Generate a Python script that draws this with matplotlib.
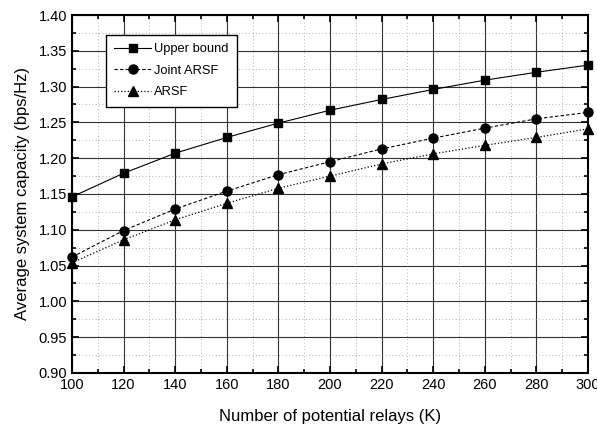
import matplotlib
matplotlib.use("Agg")
import matplotlib.pyplot as plt
from matplotlib.ticker import MultipleLocator

plt.rcParams['font.family'] = ['Liberation Sans', 'DejaVu Sans']

relays = [100, 120, 140, 160, 180, 200, 220, 240, 260, 280, 300]
upper_bound = [1.146, 1.179, 1.207, 1.229, 1.249, 1.267, 1.282, 1.296, 1.309, 1.320, 1.330]
joint_arsf = [1.062, 1.099, 1.129, 1.154, 1.177, 1.195, 1.213, 1.228, 1.242, 1.255, 1.264]
arsf = [1.054, 1.086, 1.114, 1.137, 1.158, 1.175, 1.192, 1.206, 1.218, 1.229, 1.241]

fig = plt.figure(figsize=(5.97, 4.25), dpi=100)
ax = fig.add_axes([0.1206, 0.1224, 0.8644, 0.8423])

ax.plot(relays, upper_bound, '-', color='black', lw=0.8, marker='s', ms=5.5, label='Upper bound', clip_on=False, zorder=5)
ax.plot(relays, joint_arsf, '--', color='black', lw=0.8, dashes=(3, 2), marker='o', ms=6.5, label='Joint ARSF', clip_on=False, zorder=5)
ax.plot(relays, arsf, ':', color='black', lw=0.9, marker='^', ms=6.5, label='ARSF', clip_on=False, zorder=5)

ax.set_xlim(100, 300)
ax.set_ylim(0.90, 1.40)
ax.xaxis.set_major_locator(MultipleLocator(20))
ax.xaxis.set_minor_locator(MultipleLocator(10))
ax.yaxis.set_major_locator(MultipleLocator(0.05))
ax.yaxis.set_minor_locator(MultipleLocator(0.025))
ax.yaxis.set_major_formatter(matplotlib.ticker.FormatStrFormatter('%.2f'))

ax.grid(which='major', color='#333333', lw=0.8, ls='-')
ax.grid(which='minor', color='#999999', lw=0.6, ls=(0, (1, 3)))
ax.set_axisbelow(True)

ax.tick_params(which='both', direction='in', top=True, right=True, labelsize=10.5, width=1.2, colors='black')
ax.tick_params(which='major', length=5)
ax.tick_params(which='minor', length=3)
for s in ax.spines.values():
    s.set_linewidth(1.5)

ax.set_xlabel('Number of potential relays (K)', fontsize=12, labelpad=12)
ax.set_ylabel('Average system capacity (bps/Hz)', fontsize=12, labelpad=6)

leg = ax.legend(loc='upper left', bbox_to_anchor=(0.066, 0.944), fontsize=9.3, frameon=True, fancybox=False,
                edgecolor='black', framealpha=1, handlelength=2.8, handletextpad=0.25,
                borderpad=0.65, labelspacing=0.72, borderaxespad=0)
leg.get_frame().set_linewidth(1.0)

fig.savefig('out.png', dpi=100)
